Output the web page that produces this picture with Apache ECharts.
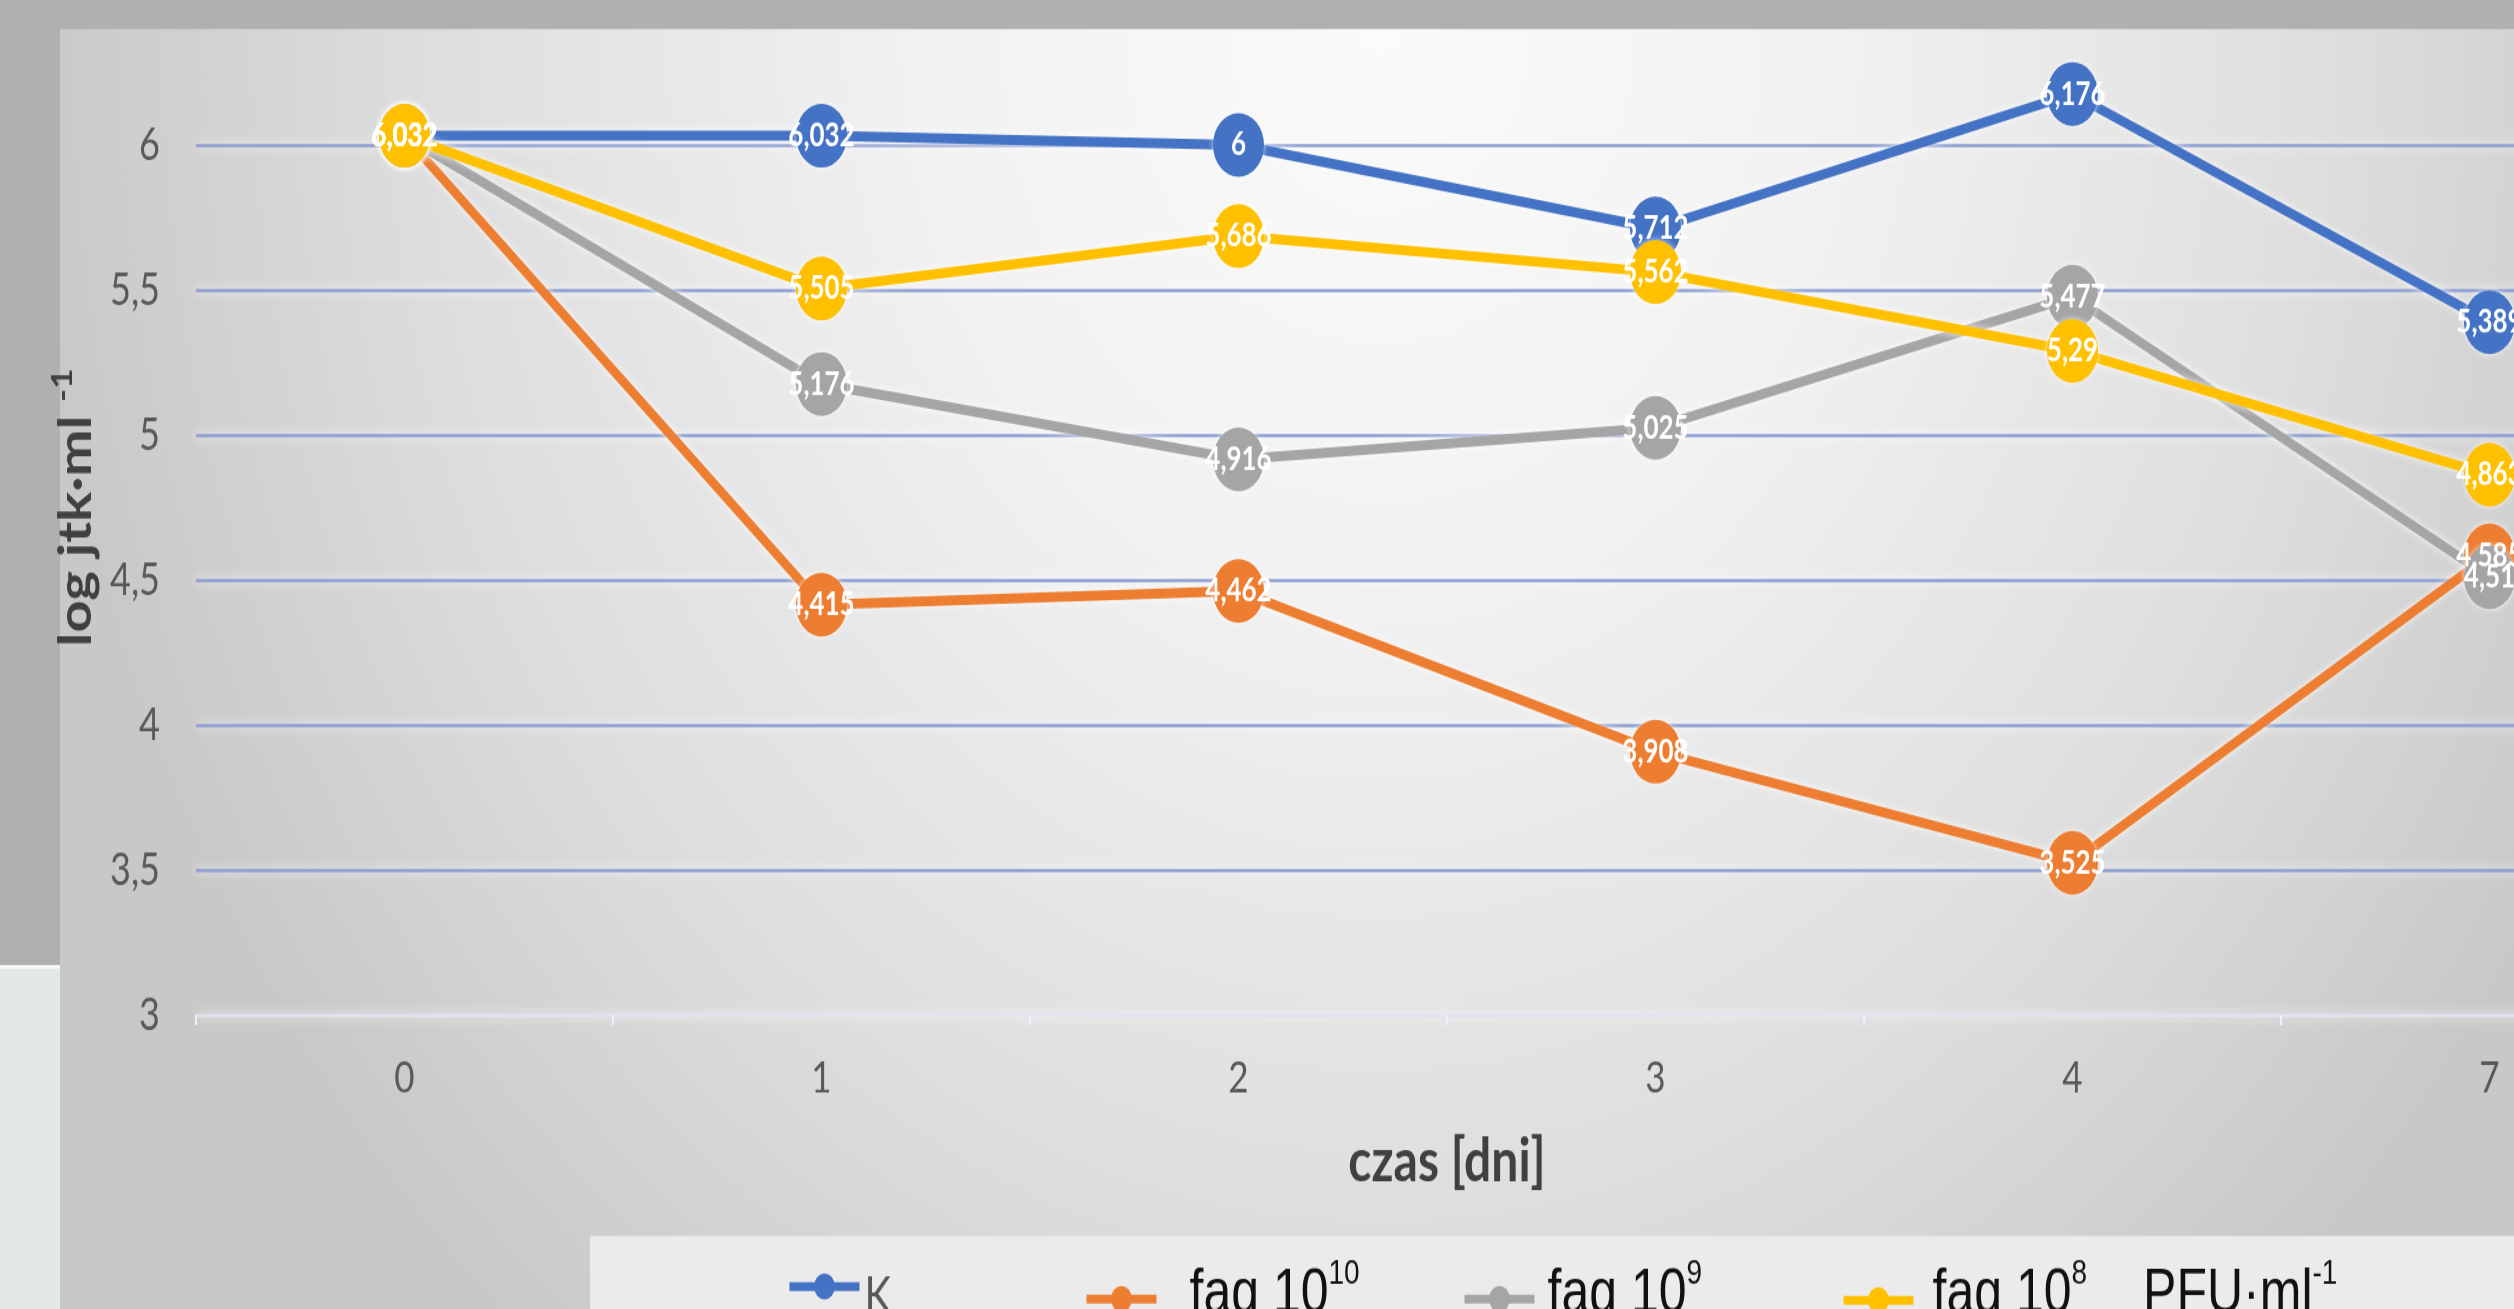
<!DOCTYPE html>
<html lang="pl" style="height: 100%; overflow: hidden">
<head>
    <meta charset="utf-8">
</head>
<body style="height: 100%; margin: 0; overflow: hidden; background: #b0b0b0">
<!-- the source screenshot is stretched vertically, so the chart is drawn and then scaled in y -->
<div id="container" style="width: 2698px; height: 1047.2px; transform: scaleY(1.25); transform-origin: 0 0"></div>

<script type="text/javascript" src="https://fastly.jsdelivr.net/npm/echarts@6/dist/echarts.min.js"></script>

<script type="text/javascript">
    var dom = document.getElementById('container');
    var myChart = echarts.init(dom, null, { renderer: 'canvas' });

    // dni pomiaru
    const days = ['0', '1', '2', '3', '4', '7'];
    // log jtk/ml
    const kData = [6.032, 6.032, 6, 5.712, 6.176, 5.389];
    const fag10Data = [6.032, 4.415, 4.462, 3.908, 3.525, 4.585];
    const fag9Data = [6.032, 5.176, 4.916, 5.025, 5.477, 4.51];
    const fag8Data = [6.032, 5.505, 5.686, 5.562, 5.29, 4.863];
    const names = ['K', 'fag 10^10', 'fag 10^9', 'fag 10^8'];
    const colors = ['#4472C4', '#ED7D31', '#A5A5A5', '#FFC000'];

    const S = 1.25; // vertical stretch
    function Y(v) { return v / S; }

    const gridColor = '#8d9ed2';
    const calibri = 'Lato, "Open Sans", sans-serif';
    const arial = '"Liberation Sans", Arial, sans-serif';

    function fmt(v) {
        return String(v).replace('.', ',');
    }

    function lineSeries(name, data, color) {
        return {
            type: 'line',
            name: name,
            data: data,
            symbol: 'circle',
            symbolSize: 51,
            showAllSymbol: true,
            animation: false,
            lineStyle: {
                width: 8,
                color: color,
                shadowColor: 'rgba(255,255,255,0.9)',
                shadowBlur: 6
            },
            itemStyle: {
                color: color,
                shadowColor: 'rgba(255,255,255,0.8)',
                shadowBlur: 5
            },
            label: {
                show: true,
                position: 'inside',
                color: '#fff',
                fontFamily: calibri,
                fontWeight: 'bold',
                fontSize: 26,
                formatter: function (p) { return fmt(p.value); }
            }
        };
    }

    const legRich = {
        t: { fontFamily: arial, fontSize: 50, color: '#111', verticalAlign: 'bottom', lineHeight: 56 },
        sup: { fontFamily: arial, fontSize: 28, color: '#111', verticalAlign: 'top', lineHeight: 56 },
        k: { fontFamily: calibri, fontSize: 40, color: '#595959', verticalAlign: 'bottom', lineHeight: 56 },
        gap: { width: 56 }
    };

    function legendItem(name, left, top, text, pad, lift) {
        return {
            data: [name],
            left: left,
            top: top,
            padding: 0,
            itemWidth: 70,
            itemHeight: 26,
            itemGap: 0,
            selectedMode: false,
            lineStyle: { width: 7 },
            formatter: function () { return text; },
            textStyle: { rich: legRich, padding: [0, 0, lift, pad] }
        };
    }

    var option = {
        backgroundColor: '#b0b0b0',
        graphic: [
            {
                type: 'rect', z: -10,
                shape: { x: 60, y: 0, width: 2640, height: Y(1309) },
                style: {
                    fill: new echarts.graphic.RadialGradient(0.5, 0.02, 1.3, [
                        { offset: 0, color: '#fbfbfb' },
                        { offset: 0.35, color: '#f1f1f1' },
                        { offset: 0.7, color: '#dedede' },
                        { offset: 1, color: '#c8c8c8' }
                    ])
                }
            },
            {
                type: 'rect', z: -9,
                shape: { x: 590, y: Y(1236), width: 2110, height: Y(80) },
                style: { fill: '#ebebeb' }
            },
            {
                type: 'rect', z: 100,
                shape: { x: 0, y: 0, width: 2700, height: Y(29) },
                style: { fill: '#b0b0b0' }
            },
            {
                type: 'rect', z: 100,
                shape: { x: 0, y: Y(965), width: 60, height: Y(350) },
                style: { fill: '#e3e8e8' }
            },
            {
                type: 'rect', z: 101,
                shape: { x: 0, y: Y(965), width: 60, height: 3 },
                style: { fill: '#f6f8f8' }
            }
        ],
        legend: [
            legendItem('K', 786, Y(1254) + 14, '{k|K}', 0, 0),
            legendItem('fag 10^10', 1083, Y(1254) + 2, '{t|fag 10}{sup|10}', 28, 12),
            legendItem('fag 10^9', 1461, Y(1254) + 2, '{t|fag 10}{sup|9}', 8, 12),
            legendItem('fag 10^8', 1840, Y(1254) + 2, '{t|fag 10}{sup|8}{gap|}{t|PFU·ml}{sup|-1}', 14, 14)
        ],
        grid: {
            left: 196,
            right: 0,
            top: 0,
            height: Y(1015),
            outerBoundsMode: 'none'
        },
        xAxis: {
            type: 'category',
            data: days,
            boundaryGap: true,
            name: 'czas [dni]',
            nameLocation: 'middle',
            nameGap: 94,
            nameTextStyle: {
                fontFamily: calibri,
                fontWeight: 'bold',
                fontSize: 48,
                color: '#404040'
            },
            axisLine: { show: false },
            axisTick: {
                show: true,
                length: 8,
                lineStyle: { color: '#eef1f7', width: 2 }
            },
            axisLabel: {
                margin: 33,
                fontFamily: calibri,
                fontSize: 35,
                color: '#595959'
            }
        },
        yAxis: {
            type: 'value',
            min: 3,
            max: 6.5,
            interval: 0.5,
            name: '{n|log jtk·ml }{s|-1}',
            nameLocation: 'middle',
            nameRotate: 90,
            nameGap: 94,
            nameTextStyle: {
                rich: {
                    n: { fontFamily: calibri, fontWeight: 'bold', fontSize: 45, color: '#404040', verticalAlign: 'bottom', lineHeight: 50 },
                    s: { fontFamily: calibri, fontWeight: 'bold', fontSize: 28, color: '#404040', verticalAlign: 'top', lineHeight: 50 }
                }
            },
            axisLine: { show: false },
            axisTick: { show: false },
            axisLabel: {
                margin: 36,
                fontFamily: calibri,
                fontSize: 36,
                color: '#595959',
                formatter: function (v) { return v === 6.5 ? '' : fmt(v); }
            },
            splitLine: {
                show: true,
                lineStyle: {
                    color: ['#dfe5f0', gridColor, gridColor, gridColor, gridColor, gridColor, gridColor, gridColor],
                    width: 2.5,
                    shadowColor: 'rgba(255,255,255,0.95)',
                    shadowBlur: 8
                }
            }
        },
        series: [
            lineSeries(names[0], kData, colors[0]),
            lineSeries(names[1], fag10Data, colors[1]),
            lineSeries(names[2], fag9Data, colors[2]),
            lineSeries(names[3], fag8Data, colors[3])
        ]
    };

    myChart.setOption(option);
    window.addEventListener('resize', myChart.resize);
</script>
</body>
</html>
